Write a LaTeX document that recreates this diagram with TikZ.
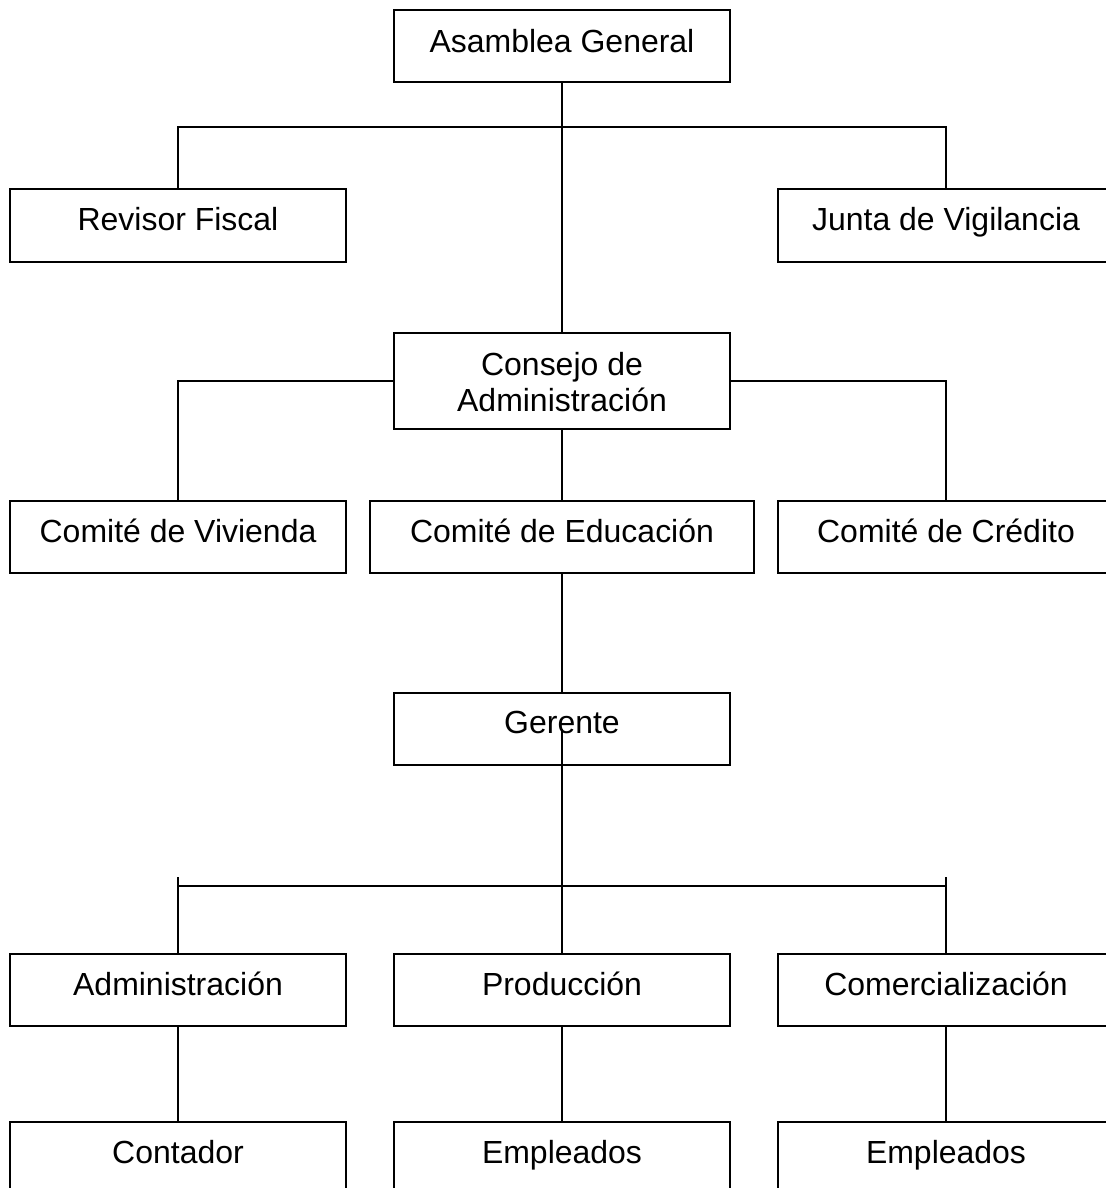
\documentclass[tikz,border=0pt]{standalone}
\usepackage{fontspec}
\setmainfont{Liberation Sans}
\def\px{0.02cm}
\tikzset{
  orgbox/.style={draw=black, line width=1.1pt, inner sep=0pt, minimum width=336*\px, minimum height=72*\px},
  orgtext/.style={anchor=base, inner sep=0pt, font=\fontsize{18.2pt}{20.5pt}\selectfont},
  conn/.style={draw=black, line width=1.1pt}
}
\begin{document}
\begin{tikzpicture}[x=0.02cm, y=-0.02cm]
\useasboundingbox (0,0) rectangle (1106,1188);
\clip (0,0) rectangle (1106,1188);
\fill[white] (0,0) rectangle (1106,1188);

% boxes
\node[orgbox] (ag) at (562,46) {};
\node[orgbox, minimum height=73*\px] (rf) at (178,225.5) {};
\node[orgbox, minimum height=73*\px] (jv) at (946,225.5) {};
\node[orgbox, minimum height=96*\px] (cons) at (562,381) {};
\node[orgbox] (viv) at (178,537) {};
\node[orgbox, minimum width=384*\px] (edu) at (562,537) {};
\node[orgbox] (cred) at (946,537) {};
\node[orgbox] (ger) at (562,729) {};
\node[orgbox] (adm) at (178,990) {};
\node[orgbox] (prod) at (562,990) {};
\node[orgbox] (com) at (946,990) {};
\node[orgbox] (cont) at (178,1158) {};
\node[orgbox] (emp1) at (562,1158) {};
\node[orgbox] (emp2) at (946,1158) {};

% texts
\node[orgtext] (ag-t) at (562,52) {Asamblea General};
\node[orgtext] (rf-t) at (178,230) {Revisor Fiscal};
\node[orgtext] (jv-t) at (946,230) {Junta de Vigilancia};
\node[orgtext] (cons-t1) at (562,375) {Consejo de};
\node[orgtext] (cons-t2) at (562,411) {Administración};
\node[orgtext] (viv-t) at (178,542) {Comité de Vivienda};
\node[orgtext] (edu-t) at (562,542) {Comité de Educación};
\node[orgtext] (cred-t) at (946,542) {Comité de Crédito};
\node[orgtext] (ger-t) at (562,733) {Gerente};
\node[orgtext] (adm-t) at (178,995) {Administración};
\node[orgtext] (prod-t) at (562,995) {Producción};
\node[orgtext] (com-t) at (946,995) {Comercialización};
\node[orgtext] (cont-t) at (178,1163) {Contador};
\node[orgtext] (emp1-t) at (562,1163) {Empleados};
\node[orgtext] (emp2-t) at (946,1163) {Empleados};

% junction coordinates
\coordinate (bus1) at (562,127);
\coordinate (bus2) at (562,886);
\coordinate (tickL) at (178,877);
\coordinate (tickR) at (946,877);

% connectors
\draw[conn] (ag.south) -- (cons.north);
\draw[conn] (rf.north) |- (bus1) -| (jv.north);
\draw[conn] (cons.west) -| (viv.north);
\draw[conn] (cons.east) -| (cred.north);
\draw[conn] (cons.south) -- (edu.north);
\draw[conn] (edu.south) -- (ger.north);
\draw[conn] (ger.center) -- (prod.north);
\draw[conn] (tickL |- bus2) -- (tickR |- bus2);
\draw[conn] (tickL) -- (adm.north);
\draw[conn] (tickR) -- (com.north);
\draw[conn] (adm.south) -- (cont.north);
\draw[conn] (prod.south) -- (emp1.north);
\draw[conn] (com.south) -- (emp2.north);
\end{tikzpicture}
\end{document}
